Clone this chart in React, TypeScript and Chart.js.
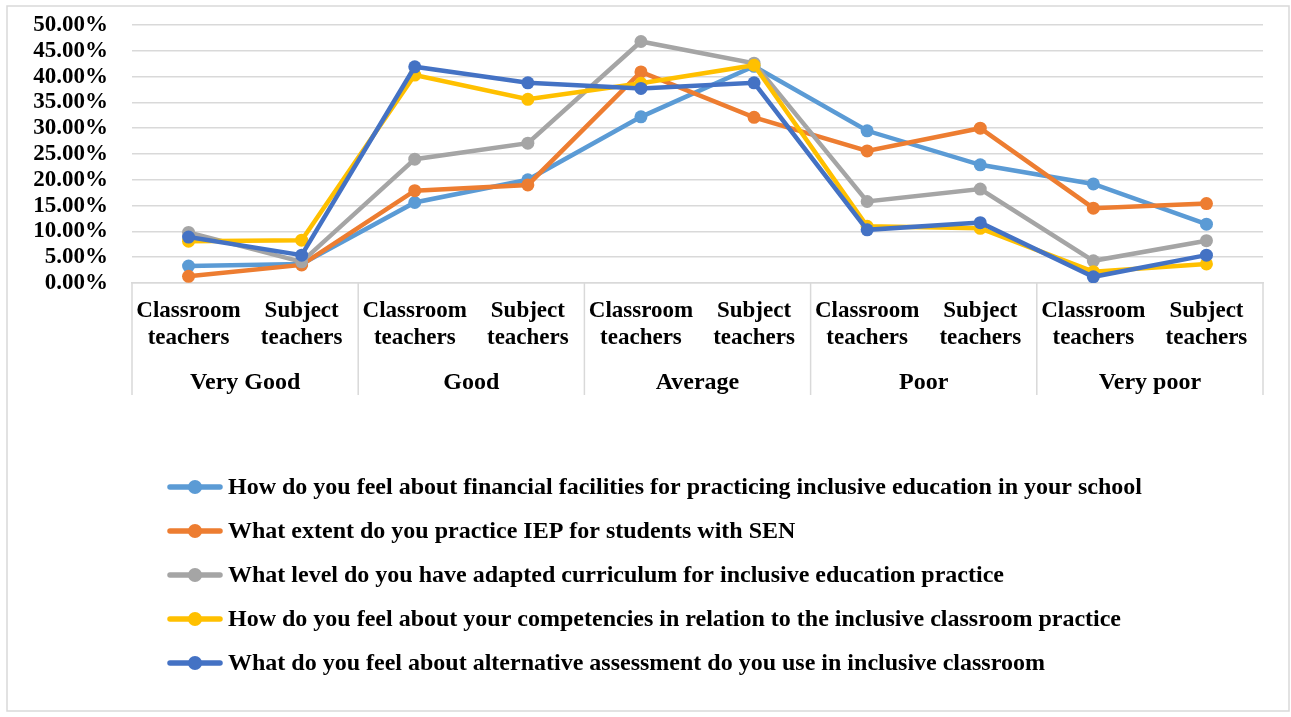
import React, { useEffect, useRef } from "react";
import { Chart, registerables } from "chart.js";

Chart.register(...registerables);

const tickLabels: string[][] = [
  ["Classroom", "teachers"], ["Subject", "teachers"],
  ["Classroom", "teachers"], ["Subject", "teachers"],
  ["Classroom", "teachers"], ["Subject", "teachers"],
  ["Classroom", "teachers"], ["Subject", "teachers"],
  ["Classroom", "teachers"], ["Subject", "teachers"],
];
const groups = ["Very Good", "Good", "Average", "Poor", "Very poor"];

const seriesNames = [
  "How do you feel about financial facilities for practicing inclusive education in your school",
  "What extent do you practice IEP for students with SEN",
  "What level do you have adapted curriculum for inclusive education practice",
  "How do you feel about your competencies in relation to the inclusive classroom practice",
  "What do you feel about alternative assessment do you use in inclusive classroom",
];
const seriesColors = ["#5B9BD5", "#ED7D31", "#A5A5A5", "#FFC000", "#4472C4"];

const financial = [3.3, 3.7, 15.6, 20.0, 32.2, 42.0, 29.5, 22.9, 19.2, 11.4];
const iep = [1.3, 3.5, 17.9, 19.0, 40.9, 32.1, 25.6, 30.0, 14.5, 15.4];
const curriculum = [9.8, 4.1, 24.0, 27.1, 46.8, 42.6, 15.8, 18.2, 4.3, 8.2];
const competencies = [8.1, 8.3, 40.3, 35.6, 38.7, 42.2, 11.0, 10.6, 2.2, 3.7];
const assessment = [8.9, 5.4, 41.9, 38.8, 37.7, 38.8, 10.3, 11.7, 1.2, 5.4];
const seriesValues = [financial, iep, curriculum, competencies, assessment];

const FONT = '"Liberation Serif", "Times New Roman", serif';
const GRID = "#d9d9d9";

const deco = {
  id: "deco",
  beforeDraw(chart: any) {
    const { ctx } = chart;
    ctx.save();
    ctx.fillStyle = "#fff";
    ctx.fillRect(0, 0, chart.width, chart.height);
    ctx.strokeStyle = GRID;
    ctx.lineWidth = 1.5;
    ctx.strokeRect(7, 6, 1282, 705);
    ctx.restore();
  },
  afterDraw(chart: any) {
    const { ctx, chartArea } = chart;
    const x = chart.scales.x;
    ctx.save();
    ctx.strokeStyle = GRID;
    ctx.lineWidth = 1.5;
    for (let g = 0; g <= groups.length; g++) {
      let px: number;
      if (g === 0) px = chartArea.left;
      else if (g === groups.length) px = chartArea.right;
      else px = (x.getPixelForValue(2 * g - 1) + x.getPixelForValue(2 * g)) / 2;
      ctx.beginPath();
      ctx.moveTo(px, chartArea.bottom);
      ctx.lineTo(px, 395);
      ctx.stroke();
    }
    ctx.fillStyle = "#000";
    ctx.font = `bold 24px ${FONT}`;
    ctx.textAlign = "center";
    ctx.textBaseline = "middle";
    groups.forEach((g, i) => {
      const cx = (x.getPixelForValue(2 * i) + x.getPixelForValue(2 * i + 1)) / 2;
      ctx.fillText(g, cx, 383);
    });
    // legend
    ctx.textAlign = "left";
    ctx.font = `bold 24px ${FONT}`;
    seriesNames.forEach((name, i) => {
      const y = 487 + 44 * i;
      ctx.strokeStyle = seriesColors[i];
      ctx.lineWidth = 5.5;
      ctx.lineCap = "round";
      ctx.beginPath();
      ctx.moveTo(170, y);
      ctx.lineTo(220, y);
      ctx.stroke();
      ctx.fillStyle = seriesColors[i];
      ctx.beginPath();
      ctx.arc(195, y, 7, 0, Math.PI * 2);
      ctx.fill();
      ctx.fillStyle = "#000";
      ctx.fillText(name, 228, y + 1);
    });
    ctx.restore();
  },
};

export default function App() {
  const ref = useRef<HTMLCanvasElement>(null);
  useEffect(() => {
    if (!ref.current) return;
    const chart = new Chart(ref.current, {
      type: "line",
      data: {
        labels: tickLabels as any,
        datasets: seriesNames.map((name, i) => ({
          label: name,
          data: seriesValues[i],
          borderColor: seriesColors[i],
          backgroundColor: seriesColors[i],
          borderWidth: 4.5,
          pointRadius: 6.5,
          pointBorderWidth: 0,
          pointHoverRadius: 6.5,
          tension: 0,
          order: 4 - i,
        })),
      },
      options: {
        responsive: false,
        animation: false,
        layout: { padding: { left: 8, right: 28, top: 25, bottom: 324 } },
        plugins: { legend: { display: false }, tooltip: { enabled: false } },
        scales: {
          x: {
            type: "category",
            offset: true,
            grid: { display: false, drawTicks: false },
            border: { display: true, color: GRID, width: 1.5 },
            ticks: {
              color: "#000",
              font: { family: FONT, size: 23, weight: "bold", lineHeight: 1.17 },
              padding: 15,
              maxRotation: 0,
              autoSkip: false,
            },
            afterFit: (s: any) => { s.height = 110; },
          },
          y: {
            min: 0,
            max: 50,
            grid: {
              color: GRID,
              lineWidth: 1.5,
              drawTicks: true,
              tickLength: 24,
              tickColor: "rgba(0,0,0,0)",
            },
            border: { display: false },
            ticks: {
              stepSize: 5,
              autoSkip: false,
              color: "#000",
              font: { family: FONT, size: 23, weight: "bold" },
              padding: 0,
              callback: (v: any) => Number(v).toFixed(2) + "%",
            },
            afterFit: (s: any) => { s.width = 124; },
          },
        },
      },
      plugins: [deco],
    });
    return () => chart.destroy();
  }, []);
  return (
    <div style={{ position: "fixed", left: 0, top: 0, width: 1291, height: 717 }}>
      <canvas ref={ref} width={1291} height={717} style={{ width: 1291, height: 717 }} />
    </div>
  );
}
